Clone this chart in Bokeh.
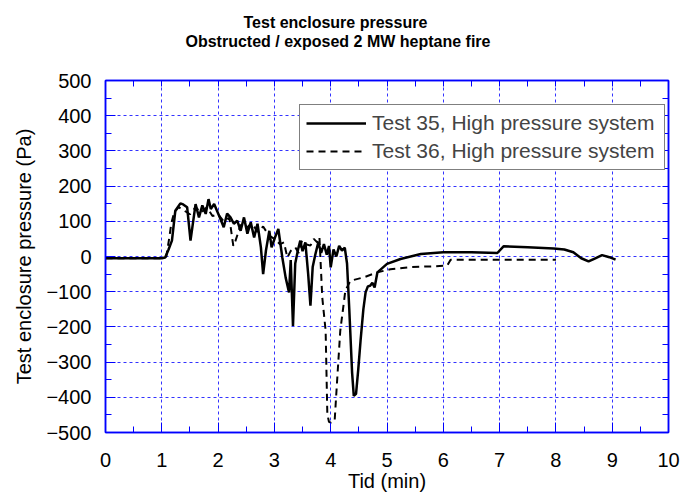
import numpy as np
from bokeh.plotting import figure
from bokeh.models import (Range1d, LinearAxis, SingleIntervalTicker, FixedTicker,
                          Title, Legend, LegendItem)
from bokeh.embed import file_html
from bokeh.resources import INLINE

# ---- data: Test 35 (solid) ----
t35 = [0.0, 0.5, 1.0, 1.06, 1.12, 1.18, 1.24, 1.33, 1.38, 1.45, 1.51, 1.6, 1.66,
       1.72, 1.78, 1.83, 1.87, 1.93, 1.98, 2.04, 2.1, 2.16, 2.22, 2.28, 2.34,
       2.4, 2.46, 2.52, 2.58, 2.64, 2.7, 2.76, 2.8, 2.85, 2.91, 2.95, 3.01,
       3.07, 3.14, 3.2, 3.26, 3.29, 3.33, 3.37, 3.42, 3.46, 3.5, 3.55, 3.6,
       3.64, 3.68, 3.73, 3.78, 3.83, 3.88, 3.93, 3.97, 4.0, 4.05, 4.1, 4.15,
       4.2, 4.25, 4.29, 4.33, 4.38, 4.41, 4.45, 4.49, 4.53, 4.58, 4.62, 4.66,
       4.7, 4.74, 4.78, 4.83, 4.9, 5.0, 5.24, 5.6, 5.83, 6.0, 6.5, 6.96, 7.07,
       7.5, 7.96, 8.15, 8.31, 8.45, 8.58, 8.7, 8.82, 8.95, 9.06]
p35 = [-5, -5, -5, -3, 20, 45, 130, 151, 148, 140, 45, 149, 111,
       145, 121, 163, 135, 149, 130, 107, 83, 122, 111, 93, 102,
       73, 111, 65, 97, 54, 93, 26, -50, 17, 73, 26, 54,
       78, -2, -60, -102, -10, -197, -20, 20, 45, 15, 40, -50,
       -140, -30, 8, 40, 10, 35, 5, 30, -31, 20, 0, 30,
       17, 25, -20, -150, -330, -396, -390, -320, -240, -150, -102, -85,
       -83, -75, -88, -45, -35, -21, -7, 7, 10, 12, 12, 10, 29,
       26, 23, 20, 12, -5, -14, -5, 4, -2, -9]

# ---- data: Test 36 (dashed) ----
t36 = [0.0, 0.5, 1.0, 1.08, 1.13, 1.17, 1.22, 1.3, 1.4, 1.5, 1.6, 1.7, 1.8,
       1.9, 2.0, 2.1, 2.2, 2.27, 2.31, 2.4, 2.5, 2.6, 2.7, 2.8, 2.9, 3.0,
       3.1, 3.17, 3.23, 3.29, 3.37, 3.43, 3.49, 3.56, 3.64, 3.7, 3.76, 3.8,
       3.85, 3.91, 3.94, 3.97, 4.0, 4.07, 4.11, 4.17, 4.26, 4.35, 4.59, 4.83,
       5.06, 5.42, 5.8, 6.07, 6.13, 7.0, 8.0]
p36 = [-5, -5, -5, 0, 50, 95, 125, 140, 130, 120, 140, 125, 140,
       115, 120, 100, 110, 30, 45, 90, 80, 95, 70, 85, 60, 50,
       35, 40, -3, 16, 26, 10, 45, 35, 31, 50, 40, 55,
       -116, -211, -448, -470, -472, -467, -363, -211, -97, -69, -59, -45,
       -36, -30, -28, -26, -9, -9, -9]

labels = ["Test 35, High pressure system", "Test 36, High pressure system"]
title_lines = ["Test enclosure pressure", "Obstructed / exposed 2 MW heptane fire"]
x_label = "Tid (min)"
y_label = "Test enclosure pressure (Pa)"

X0, X1, Y0, Y1 = 0, 10, -500, 500

FONT = "Liberation Sans"
BLUE = "#0000ff"
GRID = "#3333ff"

p = figure(width=682, height=495, output_backend="svg", toolbar_location=None,
           x_range=Range1d(X0, X1), y_range=Range1d(Y0, Y1),
           min_border_left=105, min_border_right=14, min_border_top=80,
           min_border_bottom=63, x_axis_label=x_label, y_axis_label=y_label,
           background_fill_color="white", border_fill_color="white")

p.outline_line_color = BLUE
p.outline_line_width = 1.5

p.xaxis.ticker = SingleIntervalTicker(interval=1, num_minor_ticks=2)
p.yaxis.ticker = SingleIntervalTicker(interval=100, num_minor_ticks=2)

for ax in (p.xaxis[0], p.yaxis[0]):
    ax.axis_line_color = BLUE
    ax.axis_line_width = 1.5
    ax.major_tick_line_color = BLUE
    ax.minor_tick_line_color = BLUE
    ax.major_tick_in = 10
    ax.major_tick_out = 0
    ax.minor_tick_in = 6
    ax.minor_tick_out = 0
    ax.major_label_text_font = FONT
    ax.major_label_text_font_size = "20px"
    ax.major_label_text_color = "black"
    ax.axis_label_text_font = FONT
    ax.axis_label_text_font_size = "20px"
    ax.axis_label_text_font_style = "normal"
    ax.axis_label_text_color = "black"

p.xaxis.major_label_standoff = 20
p.xaxis.axis_label_standoff = 0
p.yaxis.major_label_standoff = 14
p.yaxis.axis_label_standoff = 8

# frame ticks on the right and top (no visible labels)
right_ticks = list(np.arange(Y0, Y1 + 1, 50))
top_ticks = list(np.arange(X0, X1 + 0.01, 0.5))

ax_r = LinearAxis(ticker=FixedTicker(ticks=[], minor_ticks=right_ticks))
ax_t = LinearAxis(ticker=FixedTicker(ticks=[X0], minor_ticks=top_ticks))
for ax in (ax_r, ax_t):
    ax.axis_line_color = BLUE
    ax.axis_line_width = 1.5
    ax.major_tick_line_color = None
    ax.minor_tick_line_color = BLUE
    ax.major_tick_in = 0
    ax.major_tick_out = 0
    ax.minor_tick_in = 6
    ax.minor_tick_out = 0
    ax.major_label_standoff = 0
    ax.major_label_text_color = None
    ax.major_label_text_font_size = "1px"
# the top axis reserves room between the frame and the title
ax_t.major_tick_out = 31
p.add_layout(ax_r, "right")
p.add_layout(ax_t, "above")

for g in (p.xgrid[0], p.ygrid[0]):
    g.grid_line_color = GRID
    g.grid_line_dash = "3 3"
    g.grid_line_width = 1

r35 = p.line(t35, p35, line_color="black", line_width=2.5)
r36 = p.line(t36, p36, line_color="black", line_width=2, line_dash="7 5")

legend = Legend(items=[LegendItem(label=labels[0], renderers=[r35]),
                       LegendItem(label=labels[1], renderers=[r36])],
                location=(194, 262), glyph_width=60, glyph_height=20,
                label_height=20, label_width=286, label_standoff=6,
                padding=6, spacing=4,
                label_text_font=FONT, label_text_font_size="21px",
                border_line_color="black", border_line_width=1,
                background_fill_color="white", background_fill_alpha=1,
                margin=0)
p.add_layout(legend)

# second line first (closest to plot), then first line above it
p.add_layout(Title(text=title_lines[1], align="left", offset=80,
                   standoff=0, text_font=FONT,
                   text_font_size="16px", text_font_style="bold",
                   text_color="black"), "above")
p.add_layout(Title(text=title_lines[0], align="left", offset=138,
                   standoff=0, text_font=FONT,
                   text_font_size="16px", text_font_style="bold",
                   text_color="black"), "above")

open("out.html", "w").write(file_html(p, INLINE))
